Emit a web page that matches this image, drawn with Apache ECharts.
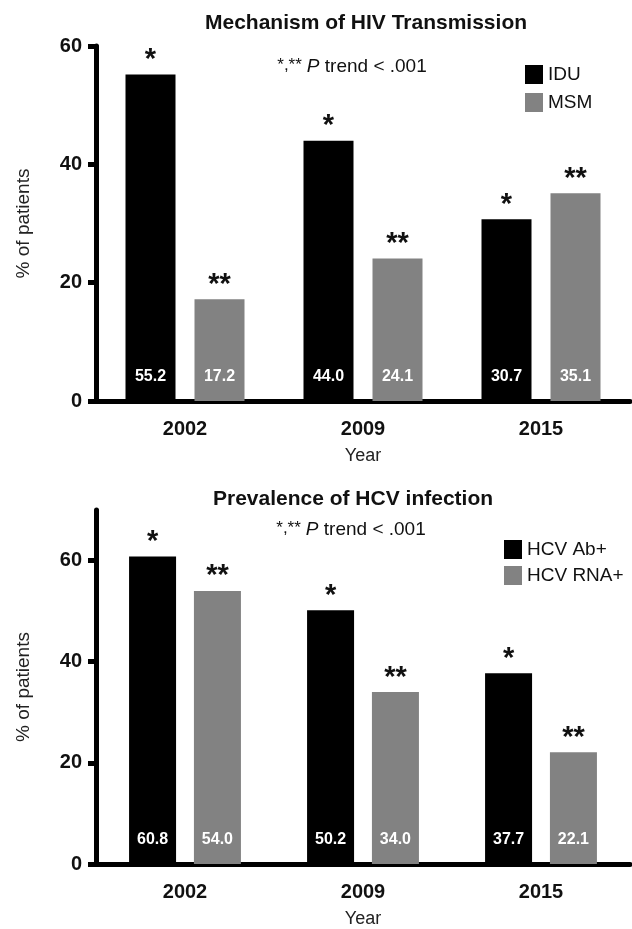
<!DOCTYPE html>
<html>
<head>
<meta charset="utf-8">
<script src="https://cdn.jsdelivr.net/npm/echarts@6/dist/echarts.min.js"></script>
<style>html,body{margin:0;padding:0;background:#fff}#c{width:632px;height:929px}</style>
</head>
<body>
<div id="c"></div>
<script>
const years = ['2002', '2009', '2015'];
const idu = [55.2, 44.0, 30.7];
const msm = [17.2, 24.1, 35.1];
const hcvAb = [60.8, 50.2, 37.7];
const hcvRna = [54.0, 34.0, 22.1];
const yTicks = [0, 20, 40, 60];
const topMax = 60;
const bottomMax = 70;

const FONT = '"Liberation Sans", Arial, Helvetica, sans-serif';
const BLACK = '#000000';
const GRAY = '#828282';

const chart = echarts.init(document.getElementById('c'), null, {renderer: 'canvas'});

function xAxisDef(gridIndex, show) {
  return {
    type: 'category', gridIndex: gridIndex, data: years, show: show,
    boundaryGap: true,
    name: 'Year', nameLocation: 'middle', nameGap: 46,
    nameTextStyle: {fontFamily: FONT, fontSize: 18, color: '#222'},
    axisLine: {lineStyle: {color: BLACK, width: 5}},
    axisTick: {alignWithLabel: true, length: 8, lineStyle: {color: BLACK, width: 5}},
    axisLabel: {fontFamily: FONT, fontSize: 20, fontWeight: 'bold', color: '#111', margin: 18}
  };
}
function yAxisDef(gridIndex, max) {
  return {
    type: 'value', gridIndex: gridIndex, min: 0, max: max, interval: 20,
    name: '% of patients', nameLocation: 'middle', nameGap: 63,
    nameTextStyle: {fontFamily: FONT, fontSize: 19, color: '#222'},
    axisLine: {show: true, lineStyle: {color: BLACK, width: 5}},
    axisTick: {show: true, length: 8, customValues: yTicks, lineStyle: {color: BLACK, width: 5}},
    axisLabel: {fontFamily: FONT, fontSize: 20, fontWeight: 'bold', color: '#111', margin: 14, customValues: yTicks},
    splitLine: {show: false}
  };
}
function valueBar(name, data, color, xi, yi, bw) {
  return {
    name: name, type: 'bar', xAxisIndex: xi, yAxisIndex: yi, data: data,
    barWidth: bw, barGap: '38%',
    itemStyle: {color: color},
    label: {show: true, position: 'insideBottom', distance: 16,
      formatter: p => p.value.toFixed(1),
      fontFamily: FONT, fontSize: 16, fontWeight: 'bold', color: '#fff'}
  };
}
function starBar(name, data, stars, xi, yi, bw) {
  return {
    name: name, type: 'bar', xAxisIndex: xi, yAxisIndex: yi, data: data,
    barWidth: bw, barGap: '38%', silent: true,
    itemStyle: {color: 'rgba(0,0,0,0)'},
    label: {show: true, position: 'top', distance: 0, formatter: stars,
      fontFamily: FONT, fontSize: 29, fontWeight: 'bold', color: '#111'}
  };
}

const subRich = {
  s: {fontFamily: FONT, fontSize: 17, fontWeight: 'normal', color: '#111', verticalAlign: 'top'},
  i: {fontFamily: FONT, fontSize: 19, fontWeight: 'normal', fontStyle: 'italic', color: '#111'},
  t: {fontFamily: FONT, fontSize: 19, fontWeight: 'normal', color: '#111'}
};

chart.setOption({
  animation: false,
  textStyle: {fontFamily: FONT},
  title: [
    {text: 'Mechanism of HIV Transmission', left: 361, top: 8, textAlign: 'center',
      textStyle: {fontFamily: FONT, fontSize: 21, fontWeight: 'bold', color: '#111'}},
    {text: '{s|*,**} {i|P}{t| trend < .001}', left: 347, top: 52, textAlign: 'center',
      textStyle: {fontWeight: 'normal', rich: subRich}},
    {text: 'Prevalence of HCV infection', left: 348, top: 484, textAlign: 'center',
      textStyle: {fontFamily: FONT, fontSize: 21, fontWeight: 'bold', color: '#111'}},
    {text: '{s|*,**} {i|P}{t| trend < .001}', left: 346, top: 515, textAlign: 'center',
      textStyle: {fontWeight: 'normal', rich: subRich}}
  ],
  legend: [
    {data: ['IDU', 'MSM'], orient: 'vertical', left: 520, top: 60, icon: 'rect',
      itemWidth: 18, itemHeight: 19, itemGap: 9,
      textStyle: {fontFamily: FONT, fontSize: 19, color: '#111'}},
    {data: ['HCV Ab+', 'HCV RNA+'], orient: 'vertical', left: 499, top: 535, icon: 'rect',
      itemWidth: 18, itemHeight: 19, itemGap: 7,
      textStyle: {fontFamily: FONT, fontSize: 19, color: '#111'}}
  ],
  grid: [
    {left: 96, right: 2, top: 46, height: 355},
    {left: 96, right: 2, top: 510, height: 355}
  ],
  xAxis: [xAxisDef(0, true), xAxisDef(1, true), xAxisDef(0, false), xAxisDef(1, false)],
  yAxis: [yAxisDef(0, topMax), yAxisDef(1, bottomMax)],
  series: [
    valueBar('IDU', idu, BLACK, 0, 0, 50),
    valueBar('MSM', msm, GRAY, 0, 0, 50),
    starBar('IDU*', idu, '*', 2, 0, 50),
    starBar('MSM*', msm, '**', 2, 0, 50),
    valueBar('HCV Ab+', hcvAb, BLACK, 1, 1, 47),
    valueBar('HCV RNA+', hcvRna, GRAY, 1, 1, 47),
    starBar('Ab*', hcvAb, '*', 3, 1, 47),
    starBar('RNA*', hcvRna, '**', 3, 1, 47)
  ]
});
</script>
</body>
</html>
